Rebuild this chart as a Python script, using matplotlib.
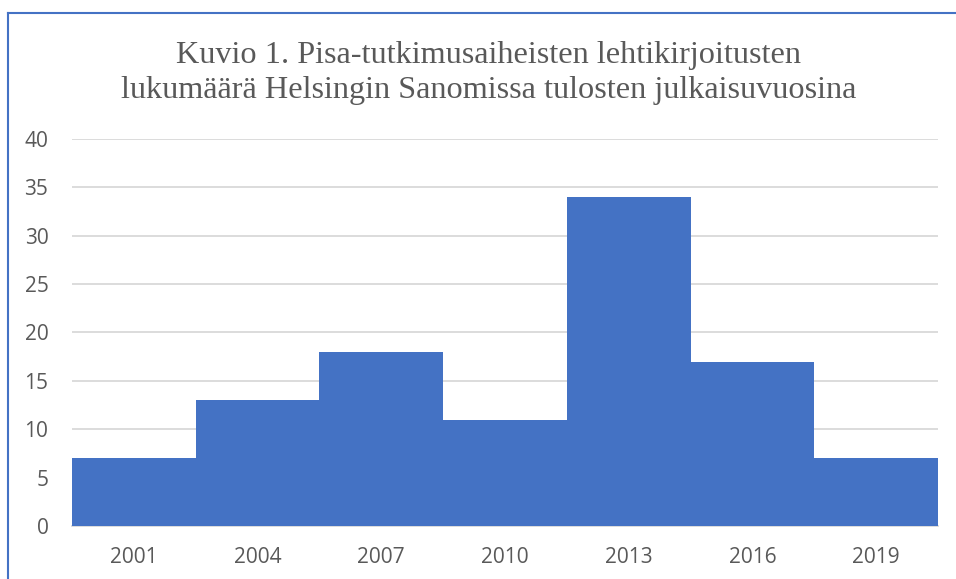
import matplotlib
matplotlib.use("Agg")
import matplotlib.pyplot as plt
from matplotlib.lines import Line2D

years = ["2001", "2004", "2007", "2010", "2013", "2016", "2019"]
counts = [7, 13, 18, 11, 34, 17, 7]
yticks = [0, 5, 10, 15, 20, 25, 30, 35, 40]
title = "Kuvio 1. Pisa-tutkimusaiheisten lehtikirjoitusten\nlukumäärä Helsingin Sanomissa tulosten julkaisuvuosina"

W, H = 956, 579
fig = plt.figure(figsize=(W / 100, H / 100), dpi=100)
ax = fig.add_axes([72 / W, 1 - 526 / H, (938 - 72) / W, (526 - 139) / H])

x = list(range(len(years)))
ax.bar(x, counts, width=1.0, color="#4472C4", zorder=3)
ax.set_xlim(-0.5, len(years) - 0.5)
ax.set_ylim(0, 40)
ax.set_yticks(yticks)
ax.set_xticks(x)
ax.set_xticklabels(years)
ax.grid(axis="y", color="#D9D9D9", linewidth=1.3, zorder=0)
for s in ["top", "right", "left"]:
    ax.spines[s].set_visible(False)
ax.spines["bottom"].set_color("#D9D9D9")
ax.spines["bottom"].set_linewidth(1.3)
ax.tick_params(axis="both", length=0, labelsize=15, labelcolor="#595959")
ax.tick_params(axis="y", pad=17)
ax.tick_params(axis="x", pad=15)
for lab in ax.get_xticklabels() + ax.get_yticklabels():
    lab.set_family(["Open Sans", "DejaVu Sans"])

fig.text(489 / W, 1 - 73 / H, title, ha="center", va="center",
         fontsize=23.2, color="#595959", family=["Liberation Serif", "DejaVu Serif"],
         linespacing=1.3)

# outer frame (top and left visible)
fig.add_artist(Line2D([7.5 / W, 7.5 / W], [0, 1 - 13 / H], transform=fig.transFigure,
                      color="#4472C4", linewidth=1.5))
fig.add_artist(Line2D([7.5 / W, 1], [1 - 13 / H, 1 - 13 / H], transform=fig.transFigure,
                      color="#4472C4", linewidth=1.5))

fig.savefig("out.png", dpi=100)
